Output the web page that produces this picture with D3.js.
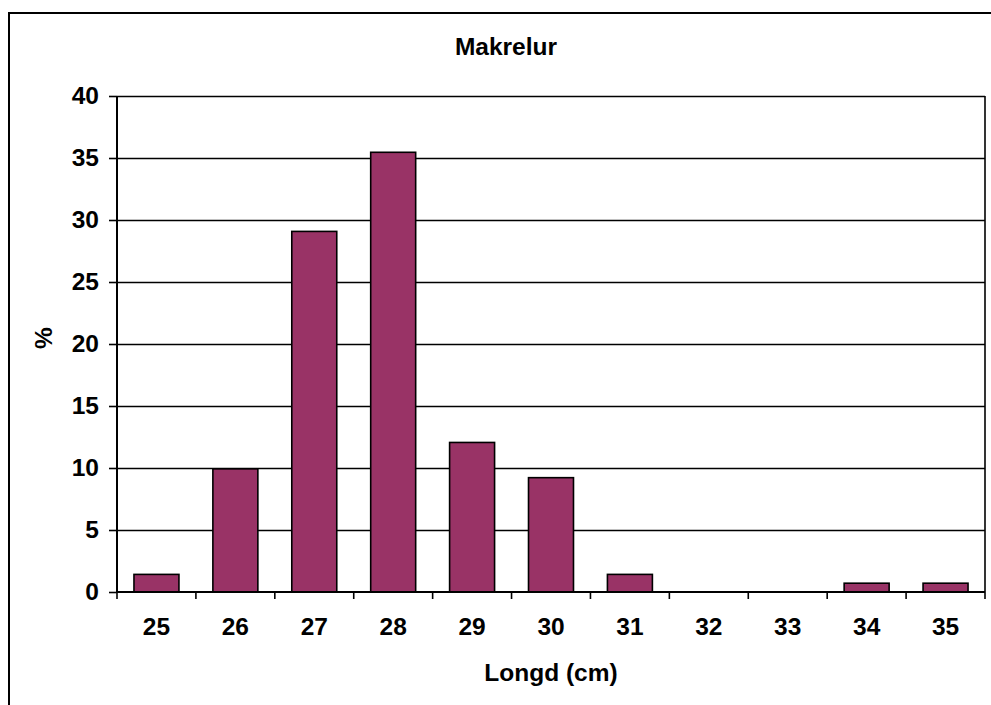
<!DOCTYPE html>
<html>
<head>
<meta charset="utf-8">
<script src="https://cdn.jsdelivr.net/npm/d3@7"></script>
<style>
  html, body { margin: 0; padding: 0; background: #fff; }
  svg { display: block; font-family: "Liberation Sans", Arial, sans-serif; font-weight: bold; }
</style>
</head>
<body>
<svg id="chart" width="991" height="705"></svg>
<script>
const categories = ["25", "26", "27", "28", "29", "30", "31", "32", "33", "34", "35"];
const values = [1.42, 9.93, 29.08, 35.46, 12.06, 9.22, 1.42, 0, 0, 0.71, 0.71];
const yTicks = [0, 5, 10, 15, 20, 25, 30, 35, 40];
const title = "Makrelur";
const xTitle = "Longd (cm)";
const yTitle = "%";

const svg = d3.select("#chart");
const W = 991, H = 705;
const plot = { left: 117, right: 985, top: 96, bottom: 592 };
const fontSize = 24.5;

// outer chart border (extends beyond the window on right and bottom)
svg.append("rect")
  .attr("x", 9).attr("y", 13)
  .attr("width", W + 20).attr("height", H + 20)
  .attr("fill", "#fff").attr("stroke", "#000").attr("stroke-width", 2);

const x = d3.scaleBand()
  .domain(categories)
  .range([plot.left, plot.right])
  .paddingInner(0.43)
  .paddingOuter(0.215);

const y = d3.scaleLinear().domain([0, 40]).range([plot.bottom, plot.top]);

// gridlines
svg.append("g")
  .selectAll("line")
  .data(yTicks.filter(d => d > 0))
  .join("line")
  .attr("x1", plot.left).attr("x2", plot.right)
  .attr("y1", d => Math.round(y(d)) + 0.5).attr("y2", d => Math.round(y(d)) + 0.5)
  .attr("stroke", "#000").attr("stroke-width", 1.6);

// right border of plot area
svg.append("line")
  .attr("x1", plot.right).attr("x2", plot.right)
  .attr("y1", plot.top).attr("y2", plot.bottom)
  .attr("stroke", "#000").attr("stroke-width", 1.6);

// bars
svg.append("g")
  .selectAll("rect")
  .data(values.map((v, i) => ({ c: categories[i], v })).filter(d => d.v > 0))
  .join("rect")
  .attr("x", d => x(d.c))
  .attr("width", x.bandwidth())
  .attr("y", d => y(d.v))
  .attr("height", d => y(0) - y(d.v))
  .attr("fill", "#993366")
  .attr("stroke", "#000")
  .attr("stroke-width", 1.6);

// y axis
const yAxis = d3.axisLeft(y).tickValues(yTicks).tickSize(8).tickPadding(10).tickFormat(d3.format("d"));
const gy = svg.append("g").attr("transform", `translate(${plot.left},0)`).call(yAxis);
gy.select(".domain").attr("stroke", "#000").attr("stroke-width", 2).attr("d", `M0,${plot.top}V${plot.bottom}`);
gy.selectAll(".tick line").attr("stroke", "#000").attr("stroke-width", 1.6);
gy.selectAll(".tick text").attr("fill", "#000").style("font-size", fontSize + "px").style("font-weight", "bold")
  .attr("font-family", null);

// x axis
const step = x.step();
const xAxis = d3.axisBottom(x).tickSize(0).tickPadding(26);
const gx = svg.append("g").attr("transform", `translate(0,${plot.bottom})`).call(xAxis);
gx.select(".domain").attr("stroke", "#000").attr("stroke-width", 2).attr("d", `M${plot.left},0H${plot.right}`);
gx.selectAll(".tick text").attr("fill", "#000").style("font-size", fontSize + "px").style("font-weight", "bold")
  .attr("font-family", null);
// tick marks between categories
const boundaries = d3.range(categories.length + 1).map(i => plot.left + i * step);
gx.append("g").selectAll("line")
  .data(boundaries)
  .join("line")
  .attr("x1", d => d).attr("x2", d => d)
  .attr("y1", 0).attr("y2", 7)
  .attr("stroke", "#000").attr("stroke-width", 1.6);

// titles
svg.append("text")
  .attr("x", 506).attr("y", 55)
  .attr("text-anchor", "middle")
  .style("font-size", fontSize + "px")
  .text(title);

svg.append("text")
  .attr("x", (plot.left + plot.right) / 2).attr("y", 681)
  .attr("text-anchor", "middle")
  .style("font-size", fontSize + "px")
  .text(xTitle);

svg.append("text")
  .attr("transform", `translate(52,338) rotate(-90)`)
  .attr("text-anchor", "middle")
  .style("font-size", fontSize + "px")
  .text(yTitle);
</script>
</body>
</html>
